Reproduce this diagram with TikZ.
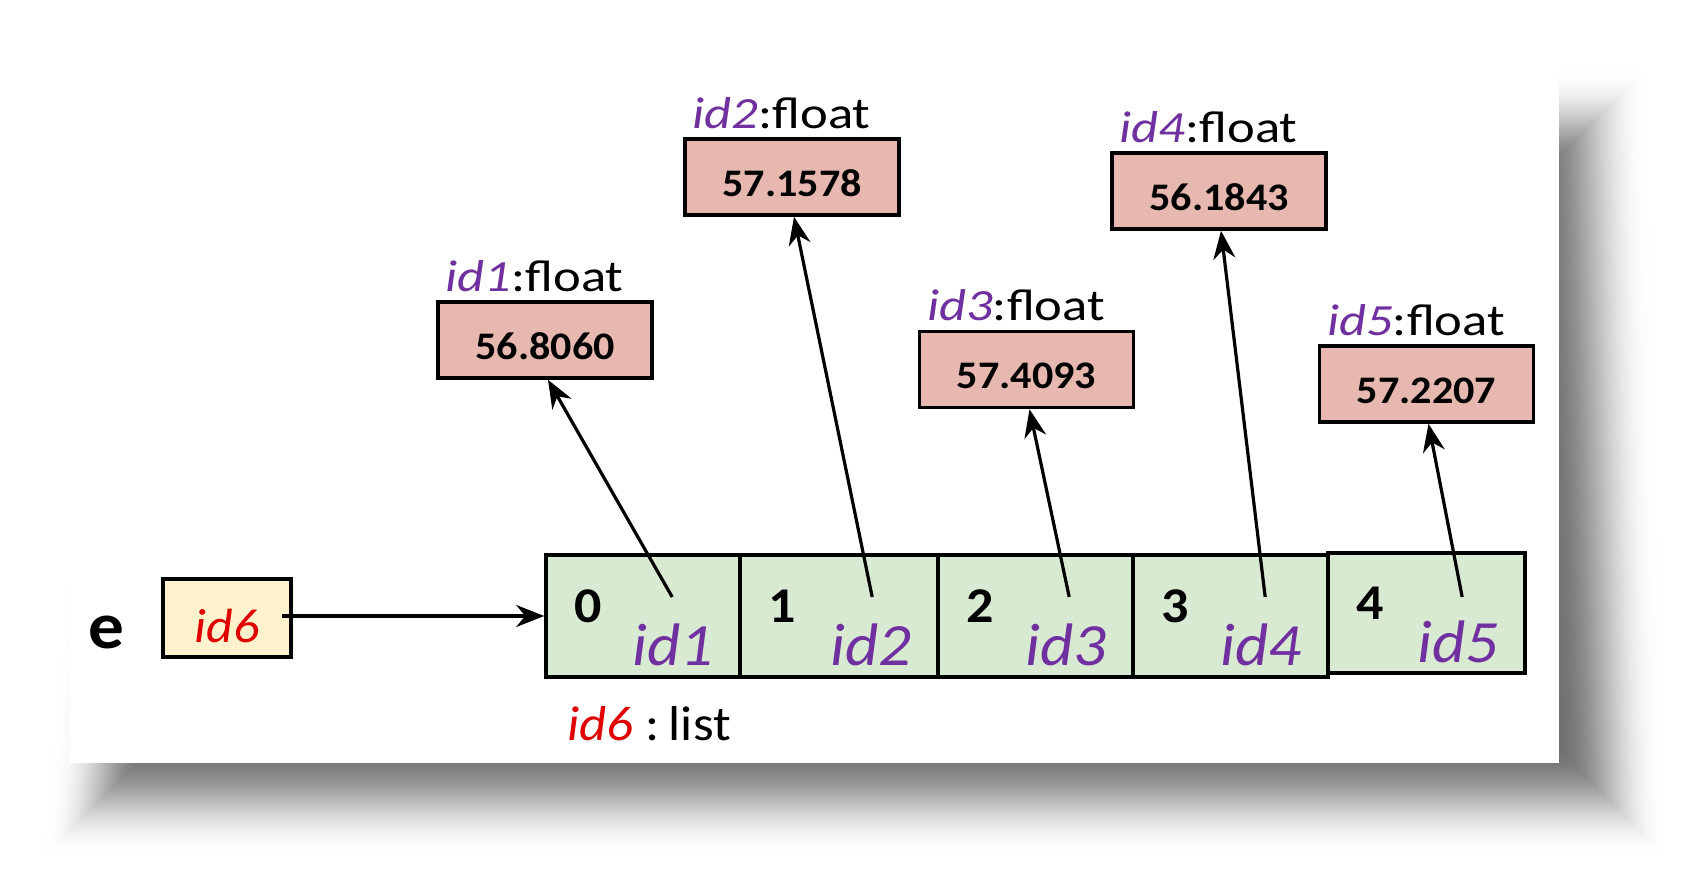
\documentclass[tikz,border=0pt]{standalone}
\usepackage{fontspec}
\setmainfont{Carlito}[FakeStretch=1.08]
\newfontfamily\lblfont{Carlito}[FakeStretch=1.18]
\usetikzlibrary{arrows.meta,calc}
\definecolor{pinkfill}{HTML}{E6B8AF}
\definecolor{greenfill}{HTML}{D9EAD3}
\definecolor{yellowfill}{HTML}{FFF2CC}
\definecolor{idpurple}{HTML}{7030A0}
\definecolor{idred}{HTML}{E00000}
\begin{document}
\begin{tikzpicture}[x=0.5pt,y=-0.5pt,
  floatbox/.style={draw=black, line width=1.8pt, fill=pinkfill, minimum width=107pt, minimum height=38pt, inner sep=0pt,
     font=\fontsize{19.5}{22}\selectfont\bfseries, text height=19pt, text depth=0pt},
  cellbox/.style={draw=black, line width=1.8pt, fill=greenfill, minimum height=61pt, inner sep=0pt},
  varbox/.style={draw=black, line width=1.8pt, fill=yellowfill, minimum width=64pt, minimum height=39pt, inner sep=0pt},
  flabel/.style={anchor=base west, inner sep=0pt, font=\lblfont\fontsize{22.3}{26}\selectfont},
  idxtext/.style={anchor=base west, inner sep=0pt, font=\fontsize{25}{28}\selectfont\bfseries},
  idtext/.style={anchor=base east, inner sep=0pt, text=idpurple, font=\fontsize{30}{34}\selectfont\itshape},
  ptr/.style={draw=black, line width=1.6pt, -{Stealth[length=14pt, width=11pt, inset=4.5pt]}}
]
\useasboundingbox (0,0) rectangle (1694,894);
\fill[white] (0,0) rectangle (1694,894);
% blurred perspective shadow: opaque grey layers, outermost first
\foreach \i in {0,...,65}{
  \pgfmathsetmacro\shE{90-2*\i}
  \pgfmathsetmacro\shT{(\shE+40)/130}
  \pgfmathsetmacro\shP{57*(1-\shT*\shT*\shT*(10-15*\shT+6*\shT*\shT))}
  \pgfmathsetmacro\xa{195-\shE}
  \pgfmathsetmacro\xb{1565+\shE}
  \pgfmathsetmacro\xc{1585+\shE}
  \pgfmathsetmacro\xd{125-\shE}
  \pgfmathsetmacro\ya{150-\shE}
  \pgfmathsetmacro\yb{775+\shE}
  \fill[black!\shP] (\xa,\ya) -- (\xb,\ya) -- (\xc,\yb) -- (\xd,\yb) -- cycle;
}
% panel
\fill[white] (70,62) rectangle (1559,763);

% variable e
\node[anchor=base, inner sep=0pt, font=\fontsize{33}{36}\selectfont\bfseries] (ename) at (106,648) {e};
\node[varbox, text=idred, font=\fontsize{24}{28}\selectfont\itshape, text height=24pt, text depth=0pt] (v) at (227,618) {id6};

% list cells
\node[cellbox, minimum width=97pt]   (c0) at (643,616) {};
\node[cellbox, minimum width=99pt]   (c1) at (839,616) {};
\node[cellbox, minimum width=97.5pt] (c2) at (1035.5,616) {};
\node[cellbox, minimum width=97.5pt] (c3) at (1230.5,616) {};
\node[cellbox, minimum width=98.5pt, minimum height=60pt] (c4) at (1426.5,613) {};

\foreach \k/\n in {0/1,1/2,2/3,3/4,4/5}{
  \node[idxtext] (i\k) at ($(c\k.west)+(30,6)$) {\k};
  \node[idtext] (t\k) at ($(c\k.east)+(-28,49)$) {id\n};
}

\node[anchor=base west, inner sep=0pt, font=\fontsize{24.5}{28}\selectfont] (ltype) at ($(c0.south west)+(23,62)$) {\textcolor{idred}{\itshape id6} :\kern-1.5pt\ list};

% float boxes
\node[floatbox] (f1) at (545,340) {56.8060};
\node[floatbox] (f2) at (792,177) {57.1578};
\node[floatbox] (f3) at (1026.5,369.5) {57.4093};
\node[floatbox] (f4) at (1219,191) {56.1843};
\node[floatbox] (f5) at (1426.5,384) {57.2207};

\foreach \n in {1,...,5}{
  \node[flabel] (l\n) at ($(f\n.north west)+(9,-9)$) {\textcolor{idpurple}{\itshape id\n}:float};
}

% pointers
\coordinate (s0) at ($(v.east)+(-11,-2)$);
\coordinate (s1) at ($(c0.west)+(128,-19)$);
\coordinate (s2) at ($(c1.west)+(134,-19)$);
\coordinate (s3) at ($(c2.west)+(133,-19)$);
\coordinate (s4) at ($(c3.west)+(134,-19)$);
\coordinate (s5) at ($(c4.west)+(136,-16)$);

\draw[ptr] (s0) -- (c0.west);
\draw[ptr] (s1) -- ($(f1.south)+(3,0)$);
\draw[ptr] (s2) -- ($(f2.south)+(2,0)$);
\draw[ptr] (s3) -- ($(f3.south)+(3,0)$);
\draw[ptr] (s4) -- ($(f4.south)+(2,0)$);
\draw[ptr] (s5) -- ($(f5.south)+(2,0)$);
\end{tikzpicture}
\end{document}
